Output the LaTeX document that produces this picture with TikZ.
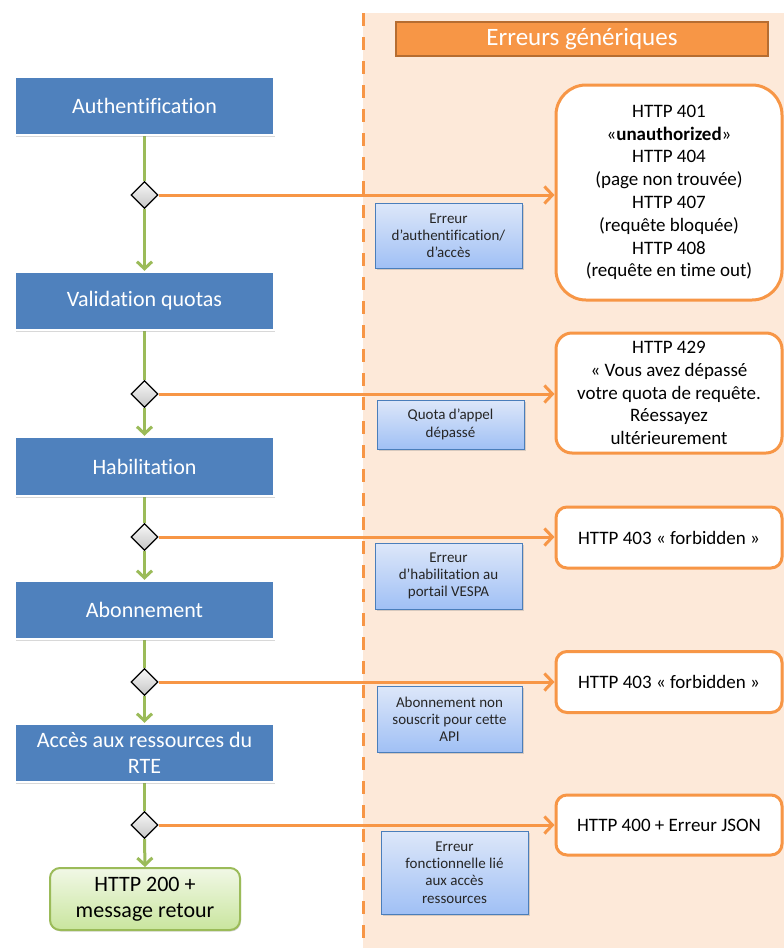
\documentclass[tikz,border=0pt]{standalone}
\usepackage{fontspec}
\setmainfont{Carlito}[Ligatures={NoCommon}]
\usetikzlibrary{arrows.meta,shapes.geometric,shadows,backgrounds}
\definecolor{bluebox}{HTML}{4F81BD}
\definecolor{greenline}{HTML}{9BBB59}
\definecolor{orangeline}{HTML}{F79646}
\definecolor{orangedark}{HTML}{B66D31}
\definecolor{peach}{HTML}{FDE9D9}
\definecolor{labtop}{HTML}{DDE7F9}
\definecolor{labbot}{HTML}{A0C0F5}
\definecolor{labborder}{HTML}{4A7EBB}
\definecolor{labtext}{HTML}{262626}
\definecolor{oktop}{HTML}{F1F8E6}
\definecolor{okbot}{HTML}{C9E59E}
\begin{document}
\begin{tikzpicture}[x=1pt,y=-1pt,
  proc/.style={fill=bluebox, draw=white, line width=2.5pt, text=white,
    font=\fontsize{22}{26}\selectfont, minimum width=259pt, inner sep=0pt, align=center,
    drop shadow={shadow xshift=1pt, shadow yshift=-1.5pt, opacity=0.3}},
  dec/.style={diamond, aspect=1, minimum size=27pt, inner sep=0pt, draw=black,
    line width=1.2pt, top color=gray!6, bottom color=gray!45},
  res/.style={draw=orangeline, line width=3pt, fill=white, align=center,
    font=\fontsize{19}{22.8}\selectfont, text=black, inner sep=0pt, minimum width=226pt},
  lab/.style={draw=labborder, line width=1pt, top color=labtop, bottom color=labbot,
    align=center, font=\fontsize{15}{17.2}\selectfont, text=labtext, inner sep=0pt,
    minimum width=147pt, drop shadow={shadow xshift=1.5pt, shadow yshift=-1.5pt, opacity=0.3}},
  gline/.style={draw=greenline, line width=3pt},
  garrow/.style={gline, -{Straight Barb[length=7pt,width=15pt]}},
  oarrow/.style={draw=orangeline, line width=3pt, -{Straight Barb[length=8pt,width=17pt]}},
]
\useasboundingbox (0,0) rectangle (784,948);
\begin{pgfonlayer}{background}
\fill[white] (0,0) rectangle (784,948);
% right background and separator
\fill[peach] (363,13) rectangle (784,948);
\draw[orangeline, line width=3pt, dash pattern=on 13pt off 11pt] (363,13) -- (363,948);
\end{pgfonlayer}

% title
\node[draw=orangedark, line width=2.5pt, fill=orangeline, text=white,
  minimum width=372pt, minimum height=34pt, inner sep=0pt,
  font=\fontsize{25}{28}\selectfont] (title) at (582,39) {Erreurs génériques};

% process boxes
\node[proc, minimum height=58pt] (p1) at (144.5,106) {Authentification};
\node[proc, minimum height=58pt] (p2) at (144.5,301) {Validation quotas};
\node[proc, minimum height=59pt] (p3) at (144.5,466.5) {Habilitation};
\node[proc, minimum height=58pt] (p4) at (144.5,610) {Abonnement};
\node[proc, minimum height=58pt] (p5) at (144.5,753) {Accès aux ressources du\\RTE};
\node[draw=greenline, line width=2pt, top color=oktop, bottom color=okbot,
  rounded corners=10pt, minimum width=190pt, minimum height=62pt, inner sep=0pt,
  align=center, font=\fontsize{22}{25.5}\selectfont, text=black,
  drop shadow={shadow xshift=1pt, shadow yshift=-1.5pt, opacity=0.3}]
  (ok) at (145,899) {HTTP 200 +\\message retour};

% decisions
\node[dec] (d1) at (144.5,195) {};
\node[dec] (d2) at (144.5,394) {};
\node[dec] (d3) at (144.5,537) {};
\node[dec] (d4) at (144.5,682) {};
\node[dec] (d5) at (144.5,825) {};

% result boxes
\node[res, minimum height=215pt, rounded corners=30pt] (r1) at (669,192.5)
  {HTTP 401\\«\textbf{unauthorized}»\\HTTP 404\\(page non trouvée)\\HTTP 407\\(requête bloquée)\\HTTP 408\\(requête en time out)};
\node[res, minimum height=120pt, rounded corners=16pt] (r2) at (669,393)
  {HTTP 429\\« Vous avez dépassé\\votre quota de requête.\\Réessayez\\ultérieurement};
\node[res, minimum height=61pt, rounded corners=11pt] (r3) at (669,537.5)
  {HTTP 403 « forbidden »};
\node[res, minimum height=61pt, rounded corners=11pt] (r4) at (669,682)
  {HTTP 403 « forbidden »};
\node[res, minimum height=60pt, rounded corners=11pt] (r5) at (669,825)
  {HTTP 400 + Erreur JSON};

% labels
\node[lab, minimum height=65pt] (l1) at (448.5,235.5) {Erreur\\d’authentification/\\d’accès};
\node[lab, minimum height=49pt] (l2) at (450.5,424.5) {Quota d’appel\\dépassé};
\node[lab, minimum height=66pt] (l3) at (448.5,576) {Erreur\\d’habilitation au\\portail VESPA};
\node[lab, minimum height=66pt, minimum width=145pt] (l4) at (449.5,719) {Abonnement non\\souscrit pour cette\\API};
\node[lab, minimum height=83pt] (l5) at (454.5,872.5) {Erreur\\fonctionnelle lié\\aux accès\\ressources};

\begin{pgfonlayer}{background}
% green flow
\draw[gline] (p1.south) -- (d1.north);
\draw[garrow] (d1.south) -- (p2.north);
\draw[gline] (p2.south) -- (d2.north);
\draw[garrow] (d2.south) -- (p3.north);
\draw[gline] (p3.south) -- (d3.north);
\draw[garrow] (d3.south) -- (p4.north);
\draw[gline] (p4.south) -- (d4.north);
\draw[garrow] (d4.south) -- (p5.north);
\draw[gline] (p5.south) -- (d5.north);
\draw[garrow] (d5.south) -- (ok.north);
% orange error arrows
\draw[oarrow] (d1.east) -- (d1.east -| r1.west);
\draw[oarrow] (d2.east) -- (d2.east -| r2.west);
\draw[oarrow] (d3.east) -- (d3.east -| r3.west);
\draw[oarrow] (d4.east) -- (d4.east -| r4.west);
\draw[oarrow] (d5.east) -- (d5.east -| r5.west);
\end{pgfonlayer}
\end{tikzpicture}
\end{document}
